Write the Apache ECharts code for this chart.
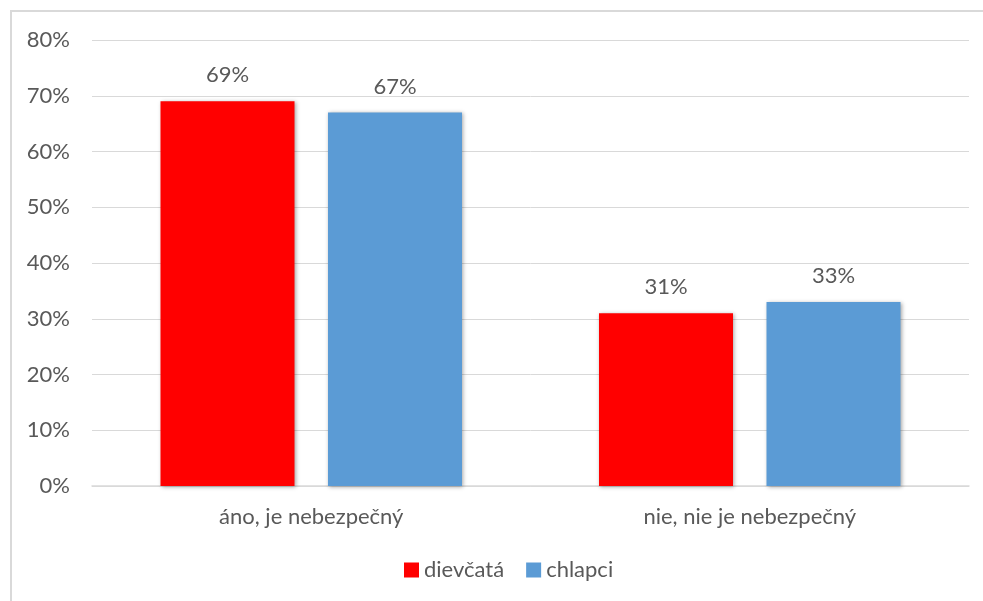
<!DOCTYPE html>
<html>
<head>
<meta charset="utf-8">
<script src="https://cdn.jsdelivr.net/npm/echarts@6/dist/echarts.min.js"></script>
<style>
  html, body { margin: 0; padding: 0; background: #fff; }
  #chart { width: 983px; height: 601px; }
</style>
</head>
<body>
<div id="chart"></div>
<script>
// Categories, series and tick labels for the grouped bar chart
const categories = ['áno, je nebezpečný', 'nie, nie je nebezpečný'];
const seriesNames = ['dievčatá', 'chlapci'];
const girls = [69, 31];
const boys = [67, 33];
const seriesColors = ['#ff0000', '#5b9bd5'];
const yTicks = [0, 10, 20, 30, 40, 50, 60, 70, 80];

const font = 'Lato, "Open Sans", sans-serif';
const textColor = '#595959';
const fontSize = 22;

const chart = echarts.init(document.getElementById('chart'), null, { renderer: 'canvas' });

const barShadow = {
  shadowBlur: 4,
  shadowColor: 'rgba(0,0,0,0.35)',
  shadowOffsetX: 1,
  shadowOffsetY: 1
};

const valueLabel = {
  show: true, position: 'top', distance: 15,
  color: textColor, fontSize: fontSize, fontFamily: font,
  formatter: p => p.value + '%'
};

chart.setOption({
  animation: false,
  backgroundColor: '#fff',
  graphic: [{
    type: 'rect',
    shape: { x: 11, y: 11, width: 990, height: 600 },
    style: { fill: 'none', stroke: '#d9d9d9', lineWidth: 2 },
    silent: true
  }],
  grid: { left: 92, right: 14, top: 40, bottom: 115 },
  legend: {
    data: seriesNames,
    bottom: 15,
    left: 399,
    itemWidth: 15,
    itemHeight: 15,
    itemGap: 22,
    icon: 'rect',
    textStyle: { color: textColor, fontSize: fontSize, fontFamily: font }
  },
  xAxis: {
    type: 'category',
    data: categories,
    axisTick: { show: false },
    axisLine: { lineStyle: { color: '#d9d9d9', width: 1.5 } },
    axisLabel: { color: textColor, fontSize: fontSize, fontFamily: font, margin: 20 }
  },
  yAxis: {
    type: 'value',
    min: yTicks[0],
    max: yTicks[yTicks.length - 1],
    interval: 10,
    axisLine: { show: false },
    axisTick: { show: false },
    splitLine: { lineStyle: { color: '#d9d9d9', width: 1 } },
    axisLabel: {
      color: textColor, fontSize: fontSize, fontFamily: font, margin: 22,
      formatter: v => v + '%'
    }
  },
  series: [
    {
      name: seriesNames[0],
      type: 'bar',
      data: girls,
      barWidth: 134,
      barGap: '25%',
      itemStyle: Object.assign({ color: seriesColors[0] }, barShadow),
      label: valueLabel
    },
    {
      name: seriesNames[1],
      type: 'bar',
      data: boys,
      barWidth: 134,
      barGap: '25%',
      itemStyle: Object.assign({ color: seriesColors[1] }, barShadow),
      label: valueLabel
    }
  ]
});
</script>
</body>
</html>
